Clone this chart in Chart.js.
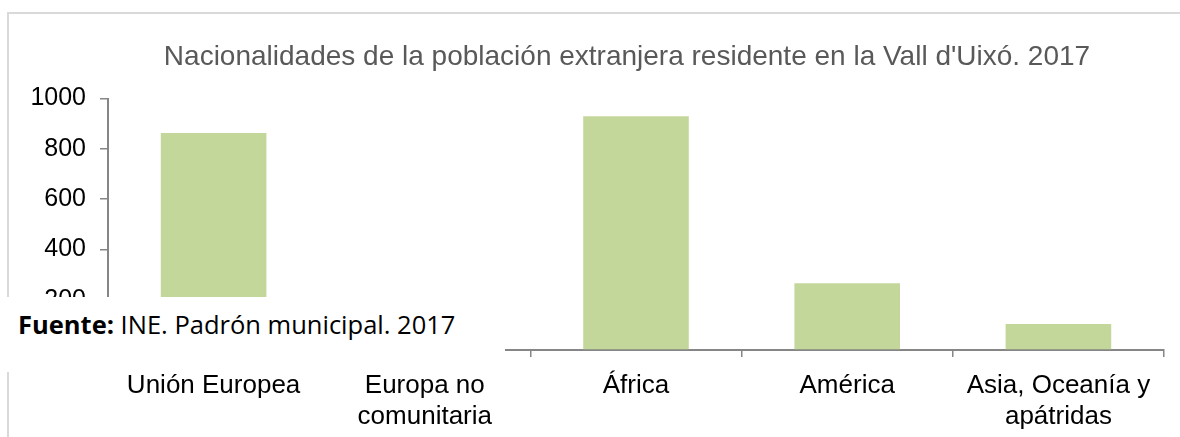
<!DOCTYPE html>
<html>
<head>
<meta charset="utf-8">
<script src="https://cdn.jsdelivr.net/npm/chart.js@4"></script>
<style>
	body { margin: 0; width: 1180px; height: 437px; overflow: hidden; background: #fff; position: relative; }
	#frame { position: absolute; left: 7px; top: 12px; width: 1300px; height: 500px; border-top: 2px solid #d9d9d9; border-left: 2px solid #d9d9d9; }
	#wrap { position: absolute; left: 0; top: 0; width: 1254px; height: 437px; }
	#fuente {
		position: absolute; left: 0; top: 297px; width: 505px; height: 75px;
		background: #fff; font-family: "Open Sans", sans-serif; font-size: 25.5px;
		color: #000; box-sizing: border-box; padding: 12px 0 0 18px; line-height: 30px;
	}
</style>
</head>
<body>
<div id="frame"></div>
<div id="wrap"><canvas id="chart"></canvas></div>
<div id="fuente"><b>Fuente:</b> INE. Padrón municipal. 2017</div>
<script>
const titleText = "Nacionalidades de la población extranjera residente en la Vall d'Uixó. 2017"
const categories = [
	"Unión Europea",
	["Europa no", "comunitaria"],
	"África",
	"América",
	["Asia, Oceanía y", "apátridas"]
]
const residents = [863, 140, 930, 266, 103]
const yTicks = [0, 200, 400, 600, 800, 1000]

const axisColor = '#868686'
const family = 'Liberation Sans, Arial, sans-serif'

// canvas runs past the window (like the original frame) so the title centres at x=627;
// an empty right axis keeps the plot ending at x=1164
new Chart(document.getElementById('chart'), {
	type: 'bar',
	data: {
		labels: categories,
		datasets: [{
			data: residents,
			backgroundColor: '#c4d79b',
			barPercentage: 0.5,
			categoryPercentage: 1
		}]
	},
	options: {
		responsive: true,
		maintainAspectRatio: false,
		animation: false,
		layout: { padding: 0 },
		plugins: {
			legend: { display: false },
			tooltip: { enabled: false },
			title: {
				display: true,
				text: titleText,
				color: '#595959',
				font: { family: family, size: 28, weight: 'normal', lineHeight: 1.2 },
				padding: { top: 40, bottom: 25 }
			}
		},
		scales: {
			x: {
				grid: { offset: true, drawOnChartArea: false, color: axisColor, tickLength: 7, lineWidth: 1.5 },
				border: { color: axisColor, width: 2 },
				ticks: { color: '#000', font: { family: family, size: 26, lineHeight: 1.17 }, padding: 14, maxRotation: 0, autoSkip: false },
				afterFit: (s) => { s.height = 87 }
			},
			y: {
				min: 0,
				max: 1000,
				afterBuildTicks: (s) => { s.ticks = yTicks.map(v => ({ value: v })) },
				grid: { drawOnChartArea: false, color: axisColor, tickLength: 8, lineWidth: 1.5 },
				border: { color: axisColor, width: 2 },
				ticks: { color: '#000', font: { family: family, size: 25 }, padding: 14, callback: (v) => String(v) },
				afterFit: (s) => { s.width = 108 }
			},
			spacer: {
				position: 'right',
				min: 0,
				max: 1000,
				grid: { display: false },
				border: { display: false },
				ticks: { display: false },
				afterFit: (s) => { s.width = 90 }
			}
		}
	}
})
</script>
</body>
</html>
